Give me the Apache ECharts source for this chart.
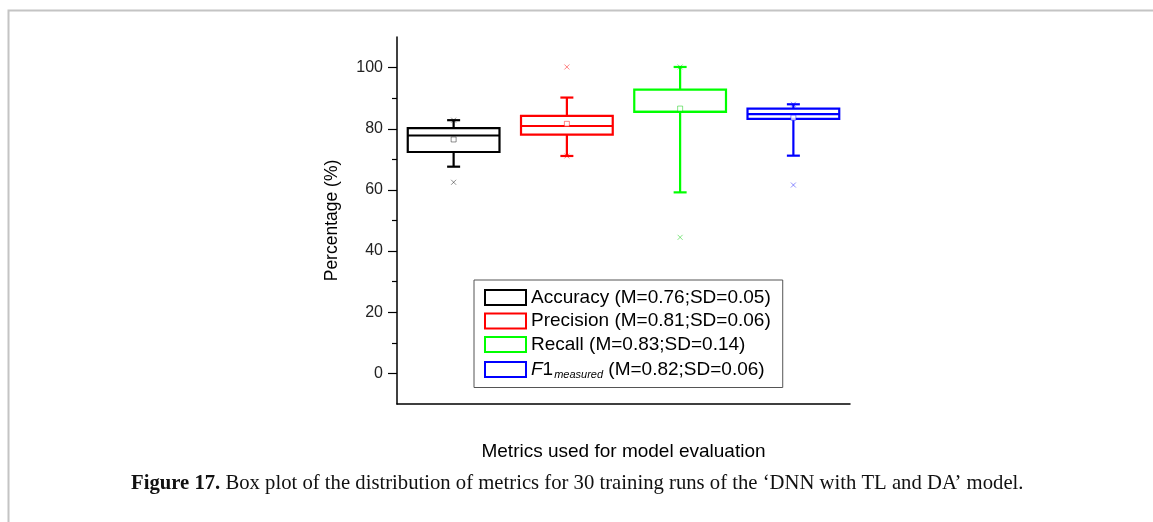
<!DOCTYPE html>
<html>
<head>
<meta charset="utf-8">
<title>Box plot of metrics</title>
<script src="https://cdn.jsdelivr.net/npm/echarts@6/dist/echarts.min.js"></script>
<style>
  html, body { margin: 0; padding: 0; background: #fff; }
  #chart { width: 1153px; height: 522px; }
</style>
</head>
<body>
<div id="chart"></div>
<script>
// metrics and their legend labels
const categories = ['Accuracy', 'Precision', 'Recall', 'F1']
const legendLabels = [
  'Accuracy (M=0.76;SD=0.05)',
  'Precision (M=0.81;SD=0.06)',
  'Recall (M=0.83;SD=0.14)',
  'F1measured (M=0.82;SD=0.06)'
]
const colors = ['#000000', '#ff0000', '#00ff00', '#0000ff']
const markColors = ['rgba(0,0,0,0.55)', 'rgba(255,0,0,0.6)', 'rgba(0,200,0,0.6)', 'rgba(0,0,255,0.55)']

// box statistics (percent)
const whiskerLow = [67.6, 71.1, 59.2, 71.2]
const q1 = [72.4, 78.1, 85.5, 83.2]
const median = [77.8, 80.9, 85.5, 84.8]
const q3 = [80.2, 84.2, 92.8, 86.6]
const whiskerHigh = [82.8, 90.2, 100.2, 88.0]
const means = [76.5, 81.6, 86.6, 83.6]
// 1% / 99% marks
const p1 = [62.5, 71.1, 44.5, 61.6]
const p99 = [82.8, 100.2, 100.2, 88.0]

// y axis ticks
const majorTicks = [0, 20, 40, 60, 80, 100]
const minorTicks = [10, 30, 50, 70, 90]

const chart = echarts.init(document.getElementById('chart'))

function renderBox(color) {
  return function (params, api) {
    const x = api.value(0)
    const lo = api.coord([x, api.value(1)])
    const b1 = api.coord([x, api.value(2)])
    const md = api.coord([x, api.value(3)])
    const b3 = api.coord([x, api.value(4)])
    const hi = api.coord([x, api.value(5)])
    const bw = api.size([1, 0])[0] * 0.81
    const cw = 13
    const cx = lo[0]
    const st = { stroke: color, lineWidth: 2.2, fill: null }
    return {
      type: 'group',
      children: [
        { type: 'line', shape: { x1: cx, y1: hi[1], x2: cx, y2: b3[1] }, style: st },
        { type: 'line', shape: { x1: cx, y1: b1[1], x2: cx, y2: lo[1] }, style: st },
        { type: 'line', shape: { x1: cx - cw / 2, y1: hi[1], x2: cx + cw / 2, y2: hi[1] }, style: st },
        { type: 'line', shape: { x1: cx - cw / 2, y1: lo[1], x2: cx + cw / 2, y2: lo[1] }, style: st },
        {
          type: 'rect',
          shape: { x: cx - bw / 2, y: b3[1], width: bw, height: b1[1] - b3[1] },
          style: { stroke: color, lineWidth: 2.2, fill: '#fff' }
        },
        { type: 'line', shape: { x1: cx - bw / 2, y1: md[1], x2: cx + bw / 2, y2: md[1] }, style: st }
      ]
    }
  }
}

const series = []
categories.forEach((c, i) => {
  series.push({
    name: legendLabels[i],
    type: 'custom',
    renderItem: renderBox(colors[i]),
    encode: { x: 0, y: [1, 2, 3, 4, 5] },
    data: [[i, whiskerLow[i], q1[i], median[i], q3[i], whiskerHigh[i]]],
    z: 2
  })
  series.push({
    name: c + ' mean',
    type: 'scatter',
    symbol: 'rect',
    symbolSize: 5,
    itemStyle: { color: '#fff', borderColor: markColors[i], borderWidth: 1 },
    data: [[i, means[i]]],
    z: 3
  })
  series.push({
    name: c + ' marks',
    type: 'scatter',
    symbol: 'path://M0,0L10,10M10,0L0,10',
    symbolSize: 5,
    itemStyle: { color: 'none', borderColor: markColors[i], borderWidth: 1 },
    data: [[i, p1[i]], [i, p99[i]]],
    z: 3
  })
})

const option = {
  backgroundColor: '#fff',
  animation: false,
  textStyle: { fontFamily: 'Liberation Sans, Arial, sans-serif', color: '#000' },
  title: {
    left: 131,
    top: 473,
    padding: 0,
    text: '{b|Figure 17.} Box plot of the distribution of metrics for 30 training runs of the \u2018DNN with TL and DA\u2019 model.',
    textStyle: {
      fontFamily: 'Liberation Serif, serif',
      fontWeight: 'normal',
      fontSize: 20.7,
      color: '#111',
      rich: {
        b: { fontFamily: 'Liberation Serif, serif', fontWeight: 'bold', fontSize: 20.7, color: '#111' }
      }
    }
  },
  graphic: [
    {
      type: 'rect',
      shape: { x: 8.5, y: 10.5, width: 1300, height: 700 },
      style: { fill: null, stroke: '#c4c4c4', lineWidth: 2 },
      silent: true
    }
  ],
  grid: { left: 397, top: 37, width: 453, height: 367 },
  legend: {
    orient: 'vertical',
    left: 474,
    top: 280,
    padding: [8, 12, 7, 10],
    borderColor: '#555',
    borderWidth: 1,
    itemWidth: 41,
    itemHeight: 15,
    itemGap: 4.5,
    selectedMode: false,
    data: legendLabels.map((n, i) => ({
      name: n,
      icon: 'rect',
      itemStyle: { color: '#fff', borderColor: colors[i], borderWidth: 2 }
    })),
    formatter: function (name) {
      if (name.indexOf('F1measured') === 0) {
        return '{i|F}{n|1}{s|measured}{n|' + name.slice(10) + '}'
      }
      return name
    },
    textStyle: {
      fontSize: 19,
      lineHeight: 19,
      color: '#000',
      rich: {
        i: { fontSize: 19, fontStyle: 'italic', lineHeight: 19 },
        n: { fontSize: 19, lineHeight: 19 },
        s: { fontSize: 11, fontStyle: 'italic', lineHeight: 19, padding: [11, 0, 0, 1] }
      }
    }
  },
  xAxis: {
    type: 'category',
    data: categories,
    boundaryGap: true,
    name: 'Metrics used for model evaluation',
    nameLocation: 'middle',
    nameGap: 38,
    nameTextStyle: { fontSize: 19, color: '#000' },
    axisLine: { onZero: false, lineStyle: { color: '#000', width: 1.5 } },
    axisTick: { alignWithLabel: true, length: 8, lineStyle: { color: '#000', width: 1.5 } },
    axisLabel: { show: false },
    splitLine: { show: false }
  },
  yAxis: [
    {
      type: 'value',
      min: -10,
      max: 110,
      name: 'Percentage (%)',
      nameLocation: 'middle',
      nameGap: 56,
      nameTextStyle: { fontSize: 17.5, color: '#000' },
      axisLine: { show: true, lineStyle: { color: '#000', width: 1.5 } },
      axisTick: { show: true, customValues: majorTicks, length: 9, lineStyle: { color: '#000', width: 1.2 } },
      axisLabel: { customValues: majorTicks, fontSize: 16, color: '#222', margin: 14 },
      splitLine: { show: false }
    },
    {
      type: 'value',
      min: -10,
      max: 110,
      position: 'left',
      axisLine: { show: false },
      axisTick: { show: true, customValues: minorTicks, length: 5, lineStyle: { color: '#000', width: 1.2 } },
      axisLabel: { show: false },
      splitLine: { show: false }
    }
  ],
  series: series
}

chart.setOption(option)
window.addEventListener('resize', () => chart.resize())
</script>
</body>
</html>
